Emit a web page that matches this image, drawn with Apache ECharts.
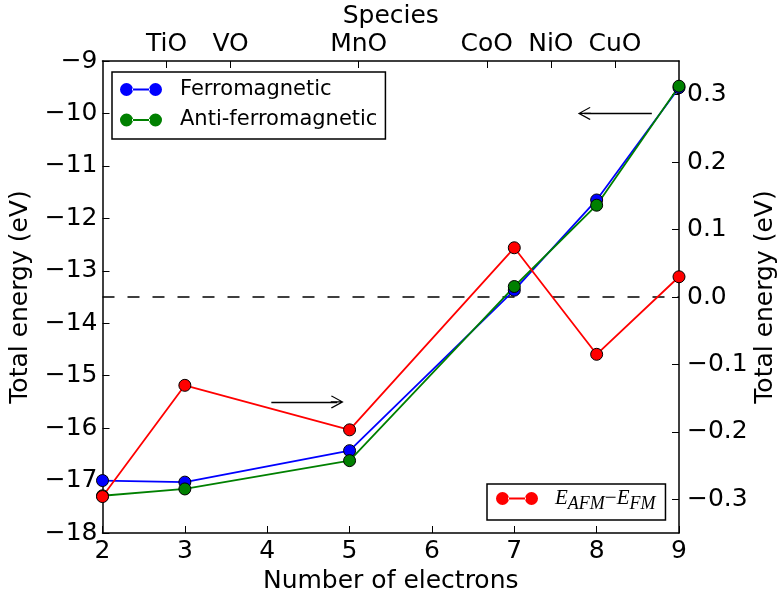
<!DOCTYPE html>
<html>
<head>
<meta charset="utf-8">
<script src="https://cdn.jsdelivr.net/npm/echarts@6/dist/echarts.min.js"></script>
<style>
  html, body { margin: 0; padding: 0; background: #fff; }
  #chart { width: 778px; height: 599px; }
</style>
</head>
<body>
<div id="chart"></div>
<script>
// values
var electrons = [2, 3, 5, 7, 8, 9];
var ferro = [-17.0, -17.03, -16.43, -13.37, -11.65, -9.51];
var antiFerro = [-17.29, -17.16, -16.62, -13.30, -11.75, -9.48];
var energyDiff = [-0.296, -0.131, -0.197, 0.073, -0.085, 0.030];

var speciesNames = ['TiO', 'VO', 'MnO', 'CoO', 'NiO', 'CuO'];
var speciesPos = [1, 2, 4, 6, 7, 8];
var rightTicks = [-0.3, -0.2, -0.1, 0.0, 0.1, 0.2, 0.3];
var zeroLine = [[2, 0], [9, 0]];

var FONT = 'DejaVu Sans';
var minus = function(s) { return String(s).replace('-', '\u2212'); };

function pairs(xs, ys) {
  return xs.map(function(x, i) { return [x, ys[i]]; });
}

// legend icon: two circles joined by a line
var legendIcon = 'path://M0,6.5A6.5,6.5,0,1,0,13,6.5A6.5,6.5,0,1,0,0,6.5Z' +
  'M29,6.5A6.5,6.5,0,1,0,42,6.5A6.5,6.5,0,1,0,29,6.5ZM12,5.6H30V7.4H12Z';
// open arrow head (stem included so the shaft reaches the tip)
var arrowHead = 'path://M0,0L6,11L5.2,11.8L0.6,3.37L0.6,12L-0.6,12L-0.6,3.37L-5.2,11.8L-6,11Z';

function axisLine() {
  return { show: true, onZero: false, lineStyle: { color: '#000', width: 1.5 } };
}
function tick(values) {
  var t = { show: true, inside: true, length: 7, lineStyle: { color: '#000', width: 1 } };
  if (values) t.customValues = values;
  return t;
}
var nameStyle = { color: '#000', fontFamily: FONT, fontSize: 25 };

function lineSeries(name, color, ys, yIndex) {
  return {
    name: name,
    type: 'line',
    yAxisIndex: yIndex,
    data: pairs(electrons, ys),
    symbol: 'circle',
    symbolSize: 12,
    showSymbol: true,
    lineStyle: { color: color, width: 1.8 },
    itemStyle: { color: color, borderColor: '#000', borderWidth: 1 },
    emphasis: { disabled: true },
    animation: false
  };
}

var fmSeries = lineSeries('Ferromagnetic', '#0000ff', ferro, 0);
fmSeries.markLine = {
  silent: true,
  symbol: ['none', arrowHead],
  symbolSize: 13,
  label: { show: false },
  lineStyle: { color: '#000', width: 1.3, type: 'solid' },
  data: [
    [{ coord: [4.05, -15.5] }, { coord: [4.85, -15.5] }],
    [{ coord: [8.67, -10.0] }, { coord: [7.85, -10.0] }]
  ],
  animation: false
};

var afmSeries = lineSeries('Anti-ferromagnetic', '#008000', antiFerro, 0);
var diffSeries = lineSeries('diff', '#ff0000', energyDiff, 1);

var zeroSeries = {
  name: 'zero',
  type: 'line',
  yAxisIndex: 1,
  data: zeroLine,
  symbol: 'none',
  z: 1,
  lineStyle: { color: '#000', width: 1.5, type: [12, 13] },
  emphasis: { disabled: true },
  silent: true,
  animation: false
};

var chart = echarts.init(document.getElementById('chart'));
chart.setOption({
  animation: false,
  backgroundColor: '#fff',
  grid: { left: 102.5, right: 99, top: 61, bottom: 66, outerBoundsMode: 'none', containLabel: false },
  xAxis: [{
    type: 'value',
    position: 'bottom',
    min: 2, max: 9, interval: 1,
    name: 'Number of electrons',
    nameLocation: 'middle',
    nameGap: 36,
    nameMoveOverlap: false,
    nameTextStyle: nameStyle,
    axisLine: axisLine(),
    axisTick: tick(),
    axisLabel: { color: '#000', fontFamily: FONT, fontSize: 25, margin: 6 },
    splitLine: { show: false }
  }, {
    type: 'value',
    position: 'top',
    min: 0, max: 9,
    name: 'Species',
    nameLocation: 'middle',
    nameGap: 32,
    nameMoveOverlap: false,
    nameTextStyle: nameStyle,
    axisLine: axisLine(),
    axisTick: tick(speciesPos),
    axisLabel: {
      color: '#000', fontFamily: FONT, fontSize: 25, margin: 4,
      customValues: speciesPos,
      formatter: function(v) {
        var i = speciesPos.indexOf(v);
        return i < 0 ? '' : speciesNames[i];
      }
    },
    splitLine: { show: false }
  }],
  yAxis: [{
    type: 'value',
    position: 'left',
    min: -18, max: -9, interval: 1,
    name: 'Total energy (eV)',
    nameLocation: 'middle',
    nameGap: 70,
    nameMoveOverlap: false,
    nameTextStyle: nameStyle,
    axisLine: axisLine(),
    axisTick: tick(),
    axisLabel: { color: '#000', fontFamily: FONT, fontSize: 25, margin: 5, formatter: minus },
    splitLine: { show: false }
  }, {
    type: 'value',
    position: 'right',
    min: -0.35, max: 0.35,
    name: 'Total energy (eV)',
    nameLocation: 'middle',
    nameGap: 74,
    nameMoveOverlap: false,
    nameTextStyle: nameStyle,
    axisLine: axisLine(),
    axisTick: tick(rightTicks),
    axisLabel: {
      color: '#000', fontFamily: FONT, fontSize: 25, margin: 8,
      customValues: rightTicks,
      formatter: function(v) { return minus(v.toFixed(1)); }
    },
    splitLine: { show: false }
  }],
  legend: [{
    left: 112, top: 72,
    orient: 'vertical',
    align: 'left',
    data: ['Ferromagnetic', 'Anti-ferromagnetic'],
    icon: legendIcon,
    itemWidth: 42, itemHeight: 13,
    itemGap: 9.5,
    padding: [7, 8, 8.5, 8],
    borderColor: '#000', borderWidth: 1.5, borderRadius: 0,
    itemStyle: { borderWidth: 0 },
    textStyle: { color: '#000', fontFamily: FONT, fontSize: 21, padding: [0, 0, 0, 13] },
    selectedMode: false
  }, {
    left: 487, top: 484,
    orient: 'vertical',
    align: 'left',
    data: ['diff'],
    icon: legendIcon,
    itemWidth: 42, itemHeight: 13,
    padding: [4, 10, 7, 9],
    borderColor: '#000', borderWidth: 1.5, borderRadius: 0,
    itemStyle: { borderWidth: 0 },
    formatter: function() { return '{e|E}{s|AFM}{m|\u2212}{e|E}{s|FM}'; },
    textStyle: {
      color: '#000', padding: [0, 0, 0, 12],
      rich: {
        e: { fontFamily: 'Liberation Serif', fontStyle: 'italic', fontSize: 21, color: '#000' },
        s: { fontFamily: 'Liberation Serif', fontStyle: 'italic', fontSize: 18, color: '#000', padding: [11, 0, 0, 0] },
        m: { fontFamily: 'Liberation Serif', fontSize: 21, color: '#000' }
      }
    },
    selectedMode: false
  }],
  series: [zeroSeries, fmSeries, afmSeries, diffSeries]
});
</script>
</body>
</html>
